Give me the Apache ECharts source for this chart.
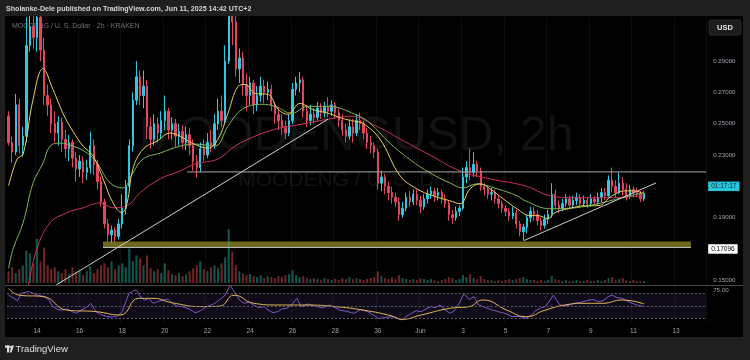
<!DOCTYPE html>
<html><head><meta charset="utf-8">
<script src="https://cdn.jsdelivr.net/npm/echarts@6/dist/echarts.min.js"></script>
<style>html,body{margin:0;padding:0;background:#1f1f1f;}#c{width:750px;height:360px;}</style>
</head><body><div id="c"></div>
<script>
// ---- data (4h candles from 2025-05-12 16:00, [open, close, low, high]) ----
const tickLabels = ['14','16','18','20','22','24','26','28','30','Jun','3','5','7','9','11','13'];
const priceTicks = [0.15,0.17,0.19,0.21,0.23,0.25,0.27,0.29];
const rsiTicks = [75];
const candles = [
[0.255,0.238,0.236,0.258],[0.238,0.232,0.225,0.242],[0.232,0.262,0.230,0.269],[0.262,0.236,0.231,0.266],[0.236,0.242,0.229,0.248],
[0.242,0.300,0.238,0.318],[0.300,0.312,0.296,0.330],[0.312,0.305,0.298,0.335],[0.305,0.318,0.296,0.332],[0.318,0.297,0.290,0.330],
[0.297,0.268,0.262,0.305],[0.268,0.262,0.255,0.275],[0.262,0.250,0.244,0.266],[0.250,0.244,0.238,0.258],[0.244,0.251,0.236,0.255],
[0.251,0.240,0.232,0.254],[0.240,0.234,0.228,0.246],[0.234,0.238,0.226,0.243],[0.238,0.228,0.222,0.240],[0.228,0.221,0.213,0.232],
[0.221,0.226,0.216,0.230],[0.226,0.219,0.212,0.229],[0.219,0.222,0.214,0.227],[0.222,0.236,0.218,0.245],[0.236,0.224,0.217,0.240],
[0.224,0.213,0.208,0.227],[0.213,0.200,0.197,0.216],[0.200,0.186,0.183,0.202],[0.186,0.179,0.175,0.189],[0.179,0.182,0.174,0.185],
[0.182,0.178,0.1745,0.184],[0.178,0.186,0.176,0.189],[0.186,0.196,0.183,0.205],[0.196,0.210,0.192,0.214],[0.210,0.236,0.208,0.240],
[0.236,0.265,0.232,0.270],[0.265,0.280,0.262,0.290],[0.280,0.268,0.262,0.284],[0.268,0.274,0.260,0.284],[0.274,0.248,0.240,0.278],
[0.248,0.240,0.234,0.254],[0.240,0.250,0.236,0.256],[0.250,0.244,0.238,0.254],[0.244,0.252,0.240,0.258],[0.252,0.258,0.246,0.268],
[0.258,0.246,0.240,0.260],[0.246,0.250,0.240,0.254],[0.250,0.242,0.235,0.253],[0.242,0.245,0.236,0.250],[0.245,0.238,0.234,0.249],
[0.238,0.243,0.233,0.248],[0.243,0.236,0.230,0.247],[0.236,0.226,0.220,0.240],[0.226,0.222,0.2155,0.230],[0.222,0.234,0.219,0.238],
[0.234,0.230,0.226,0.240],[0.230,0.238,0.228,0.244],[0.238,0.236,0.232,0.246],[0.236,0.250,0.234,0.256],[0.250,0.258,0.246,0.266],
[0.258,0.252,0.248,0.268],[0.252,0.290,0.250,0.300],[0.290,0.330,0.288,0.345],[0.330,0.315,0.300,0.340],[0.315,0.285,0.280,0.325],
[0.285,0.292,0.276,0.298],[0.292,0.275,0.268,0.296],[0.275,0.268,0.258,0.282],[0.268,0.276,0.262,0.280],[0.276,0.262,0.256,0.278],
[0.262,0.268,0.258,0.274],[0.268,0.274,0.264,0.280],[0.274,0.270,0.263,0.278],[0.270,0.272,0.265,0.277],[0.272,0.262,0.258,0.275],
[0.262,0.256,0.250,0.264],[0.256,0.252,0.246,0.260],[0.252,0.248,0.243,0.256],[0.248,0.244,0.240,0.252],[0.244,0.252,0.242,0.256],
[0.252,0.272,0.250,0.276],[0.272,0.276,0.268,0.280],[0.276,0.278,0.270,0.283],[0.278,0.258,0.254,0.280],[0.258,0.252,0.248,0.262],
[0.252,0.256,0.249,0.262],[0.256,0.254,0.250,0.260],[0.254,0.260,0.252,0.264],[0.260,0.257,0.253,0.263],[0.257,0.261,0.254,0.264],
[0.261,0.258,0.254,0.267],[0.258,0.262,0.255,0.265],[0.262,0.257,0.253,0.264],[0.257,0.252,0.248,0.260],[0.252,0.246,0.242,0.256],
[0.246,0.242,0.238,0.250],[0.242,0.248,0.240,0.252],[0.248,0.244,0.238,0.253],[0.244,0.252,0.242,0.256],[0.252,0.250,0.246,0.257],
[0.250,0.244,0.240,0.252],[0.244,0.238,0.234,0.247],[0.238,0.236,0.231,0.242],[0.236,0.232,0.228,0.238],[0.232,0.212,0.208,0.234],
[0.212,0.216,0.207,0.220],[0.216,0.210,0.205,0.218],[0.210,0.206,0.201,0.213],[0.206,0.203,0.199,0.210],[0.203,0.200,0.197,0.206],
[0.200,0.192,0.188,0.203],[0.192,0.196,0.190,0.200],[0.196,0.203,0.194,0.206],[0.203,0.200,0.197,0.207],[0.200,0.205,0.198,0.208],
[0.205,0.201,0.198,0.208],[0.201,0.197,0.193,0.204],[0.197,0.202,0.195,0.205],[0.202,0.205,0.199,0.208],[0.205,0.207,0.202,0.210],
[0.207,0.204,0.200,0.209],[0.204,0.206,0.201,0.209],[0.206,0.202,0.199,0.208],[0.202,0.199,0.196,0.205],[0.199,0.192,0.188,0.201],
[0.192,0.190,0.186,0.195],[0.190,0.194,0.188,0.197],[0.194,0.196,0.191,0.198],[0.196,0.216,0.195,0.222],[0.216,0.222,0.212,0.226],
[0.222,0.219,0.214,0.234],[0.219,0.224,0.216,0.232],[0.224,0.220,0.216,0.226],[0.220,0.210,0.207,0.222],[0.210,0.208,0.204,0.212],
[0.208,0.205,0.202,0.210],[0.205,0.206,0.201,0.209],[0.206,0.202,0.199,0.208],[0.202,0.199,0.196,0.204],[0.199,0.196,0.193,0.201],
[0.196,0.194,0.191,0.198],[0.194,0.191,0.188,0.196],[0.191,0.193,0.189,0.197],[0.193,0.186,0.183,0.195],[0.186,0.181,0.178,0.188],
[0.181,0.184,0.1755,0.186],[0.184,0.190,0.180,0.192],[0.190,0.194,0.187,0.197],[0.194,0.192,0.188,0.197],[0.192,0.188,0.185,0.195],
[0.188,0.185,0.182,0.190],[0.185,0.189,0.183,0.192],[0.189,0.192,0.186,0.195],[0.192,0.205,0.190,0.212],[0.205,0.198,0.195,0.208],
[0.198,0.196,0.193,0.201],[0.196,0.199,0.194,0.202],[0.199,0.202,0.197,0.205],[0.202,0.198,0.196,0.204],[0.198,0.201,0.196,0.204],
[0.201,0.203,0.198,0.206],[0.203,0.199,0.197,0.205],[0.199,0.201,0.197,0.204],[0.201,0.199,0.196,0.203],[0.199,0.202,0.197,0.205],
[0.202,0.200,0.198,0.204],[0.200,0.203,0.198,0.206],[0.203,0.206,0.200,0.209],[0.206,0.204,0.201,0.209],[0.204,0.214,0.203,0.217],
[0.214,0.210,0.206,0.222],[0.210,0.206,0.203,0.214],[0.206,0.212,0.205,0.219],[0.212,0.208,0.204,0.216],[0.208,0.204,0.201,0.212],
[0.204,0.208,0.202,0.211],[0.208,0.206,0.203,0.210],[0.206,0.205,0.203,0.209],[0.205,0.202,0.200,0.207],[0.202,0.2055,0.2005,0.207]
];
const volumes = [12,16,10,14,18,33,30,20,45,22,36,18,14,16,12,10,14,9,16,11,13,8,12,17,10,14,18,20,16,22,
14,18,20,16,35,22,28,25,18,28,15,12,14,10,20,13,9,8,10,7,9,12,15,18,22,14,12,16,18,15,
20,26,55,32,18,12,10,8,9,7,6,8,5,7,6,5,7,6,8,9,13,8,6,7,5,4,5,4,3,5,
4,3,4,3,5,4,6,4,5,4,3,4,5,6,12,7,5,4,6,4,8,5,4,3,4,3,5,4,3,4,
3,2,3,4,6,5,3,4,8,6,9,5,4,7,4,3,3,2,3,2,3,4,3,4,5,6,4,3,3,2,
3,2,3,7,4,3,2,3,2,2,3,2,2,3,2,2,3,2,3,5,6,3,4,5,3,2,3,2,2,2];
// moving averages: [candle index, price]
const maFast = [[0,0.2103],[2.4,0.2275],[4.1,0.2306],[6.9,0.2656],[9.7,0.2852],[12.5,0.2719],[15.3,0.2567],[18.1,0.2452],[21,0.2357],[23.8,0.2294],[26.6,0.2148],[29.4,0.1995],[31.9,0.1932],[33.4,0.1995],[35,0.2211],[37.9,0.2338],[41.8,0.2389],[45.5,0.244],[48.3,0.242],[51.7,0.2376],[56.2,0.2344],[59,0.2402],[61.8,0.2567],[64.6,0.2738],[66.6,0.2751],[69.4,0.2694],[73.1,0.2687],[75.9,0.2592],[78.7,0.256],[82.1,0.263],[85.5,0.2592],[90,0.2567],[93.9,0.2535],[97.6,0.2515],[99.8,0.2503],[104.6,0.2402],[110.3,0.2167],[115,0.2084],[119.5,0.204],[124.3,0.2008],[127.2,0.1989],[130,0.2084],[132.8,0.2116],[135.6,0.2084],[139.3,0.2021],[143.2,0.1957],[146.9,0.1913],[149.1,0.1913],[151.9,0.1894],[153.9,0.1932],[157.6,0.1957],[162.4,0.1976],[166,0.1976],[170,0.204],[173.6,0.2071],[176.5,0.2071],[178.7,0.2052]];
const maMid = [[0,0.1576],[1.3,0.1703],[4.1,0.1868],[6.9,0.2122],[9.7,0.2249],[11.7,0.2357],[14.5,0.2376],[18.1,0.2357],[22.1,0.2313],[24.9,0.2249],[28.6,0.2122],[32.2,0.209],[35,0.2186],[37.9,0.2275],[42.7,0.2313],[48.3,0.2357],[52.5,0.237],[58.1,0.2357],[61.8,0.2484],[65.8,0.2592],[71.4,0.2624],[75,0.2611],[79.8,0.2567],[84.3,0.2611],[90,0.2611],[97.6,0.256],[101.8,0.2503],[107.4,0.2376],[113.1,0.227],[118.7,0.2186],[124.3,0.2122],[128,0.209],[131.9,0.2116],[137.6,0.2084],[143.2,0.204],[145.5,0.2008],[152.5,0.1957],[159.6,0.1963],[166,0.1989],[172.8,0.2027],[178.7,0.2059]];
const maSlow = [[5.5,0.146],[8,0.1703],[11.7,0.1868],[16.5,0.1932],[21,0.1963],[25.8,0.1995],[29.4,0.1963],[33.4,0.1976],[37,0.2059],[42.7,0.2148],[48.3,0.2198],[52.5,0.2243],[59,0.2275],[63.8,0.2357],[69.4,0.242],[75,0.2465],[82.6,0.2497],[90,0.2529],[96.2,0.2548],[104.6,0.2473],[110.3,0.2402],[118.7,0.23],[127.2,0.2198],[135.6,0.2148],[145.5,0.2103],[152.5,0.204],[159.6,0.2027],[168.9,0.2027],[178.7,0.204]];
const rsi = [[0,67],[1.5,62],[2.5,58],[3.6,70],[5.8,73],[7,70],[8.3,67],[10.3,64.7],[11.5,58],[12.5,48.7],[13.8,44],[15,43],[16.5,45],[17.9,40.7],[19,38],[20.4,43],[21.8,47],[23.2,54],[24.6,40.7],[26,36],[27.2,33.7],[28.6,32],[30,32.7],[31,35],[32,40.7],[33.9,70],[34.9,73],[35.9,75.3],[37,66],[38.2,59],[39.5,62],[40.7,54],[42,57],[43.5,59],[44.8,61],[46,54],[47.4,50],[48.8,48.7],[50,47],[51.4,43],[52.5,39],[53.6,40.7],[54.6,44],[55.6,48.7],[57,51],[58.1,54],[59.5,60],[61,67],[62.4,83],[63.3,75],[64.4,64.7],[65.3,58],[66.3,54],[67.7,56],[69.1,51],[70.5,47],[72,49],[73.1,43],[74.5,39],[75.9,40.7],[77,45],[78.4,46],[79.8,52],[81.2,62],[82.4,48.7],[84.5,53],[86.6,48.7],[88.5,47],[90.5,51.3],[92,47],[93.4,43],[95.3,41],[97.3,38],[99.2,44],[101.2,40.7],[102.6,36],[104.1,30],[106,31],[108,32.7],[109.4,30],[110.8,27.3],[112,33],[113.4,38],[114.8,42],[116.2,40.7],[117.6,45],[119,48.7],[120.2,47],[121.5,51.3],[122.9,44],[124.3,38],[125.6,42],[126.9,54],[128.3,70],[129.7,60],[131.1,64.7],[132.3,52],[133.6,48.7],[135.8,44],[137.9,40.7],[139.8,38],[141.8,32.7],[143.8,33],[145.8,30],[147.2,35],[148.6,43],[149.8,46],[151.1,48.7],[152.2,56],[153.4,67],[154.3,60],[155.3,51.3],[157.3,50],[159.3,54],[161.4,56],[163.5,59.3],[164.8,60],[166,56.7],[167.4,58],[168.9,64.7],[170,67],[171.4,63],[172.8,62],[174.2,58],[175.6,54],[177.3,51],[179,48.7]];
const rsiMa = [[0,78],[3,67],[9.7,64.7],[16.5,43],[24.6,40.7],[31.4,35.3],[36.7,62],[40.7,62],[46,55],[54.2,48.7],[59.5,49.5],[63.5,67],[69.1,54],[75.9,51.3],[83.8,51.3],[91.9,48.7],[100.1,43],[108,33.7],[110.8,28.4],[116.2,35.3],[124.3,46],[129.7,48.7],[133.6,59.3],[140.4,43],[145.8,32.7],[151.1,43],[156.7,51.3],[162.1,54],[167.4,54],[172.8,59.3],[179,53]];
// drawings: [candle index, price]
const trendMain = [[13.4,0.147],[90,0.2529]];
const trendRecent = [[145.2,0.1754],[182.4,0.2122]];
const resistance = [[50.3,0.2192],[196.5,0.2192]];
const supportZone = {from: 26.6, to: 192.2, low: 0.17096, high: 0.1748};
const supportLevel = 0.17096;
const countdown = '01:17:17';

// ---- chart ----
const N = 197;
const startMs = Date.UTC(2025,4,12,16);
const categories = Array.from({length: N}, (_, i) => new Date(startMs + i*4*3600e3).toISOString().slice(5,16));
const isTick = i => i >= 8 && (i - 8) % 12 === 0;
const L = 6.825, R = 43.825;
const UP = '#33c6e0', DOWN = '#e0465e';
const FONT = 'Liberation Sans, Arial, sans-serif';
const axisText = '#a0a3ac';
const lastClose = candles[candles.length-1][1];

const chart = echarts.init(document.getElementById('c'), null, {renderer:'canvas'});
chart.setOption({
  animation: false,
  backgroundColor: '#000000',
  textStyle: {fontFamily: FONT},
  grid: [
    {left: L, right: R, top: 17, bottom: 75},
    {left: L, right: R, top: 228, bottom: 77},
    {left: L, right: R, top: 285, bottom: 37}
  ],
  xAxis: [
    {type:'category', gridIndex:0, data: categories, boundaryGap:true, axisLine:{show:false}, axisTick:{show:false}, axisLabel:{show:false},
     splitLine:{show:true, interval:(i)=>isTick(i), lineStyle:{color:'rgba(255,255,255,0.05)', width:1}}},
    {type:'value', gridIndex:0, min:-0.5, max:N-0.5, show:false},
    {type:'category', gridIndex:1, data: categories, boundaryGap:true, show:false},
    {type:'category', gridIndex:2, data: categories, boundaryGap:true, axisLine:{show:false}, axisTick:{show:false},
     axisLabel:{show:true, interval:(i)=>isTick(i), formatter:(v,i)=>tickLabels[(i-8)/12], color:axisText, fontSize:6.5, margin:5, fontFamily:FONT},
     splitLine:{show:true, interval:(i)=>isTick(i), lineStyle:{color:'rgba(255,255,255,0.05)', width:1}}},
    {type:'value', gridIndex:2, min:-0.5, max:N-0.5, show:false}
  ],
  yAxis: [
    {type:'value', gridIndex:0, position:'right', min:0.1470, max:0.31814, scale:true,
     axisLine:{show:false}, axisTick:{show:false}, splitLine:{show:false},
     axisLabel:{customValues: priceTicks, formatter:v=>v.toFixed(5), color:axisText, fontSize:6.2, margin:7, fontFamily:FONT}},
    {type:'value', gridIndex:1, min:0, max:56, show:false},
    {type:'value', gridIndex:2, position:'right', min:22.5, max:83.3,
     axisLine:{show:false}, axisTick:{show:false}, splitLine:{show:false},
     axisLabel:{customValues: rsiTicks, formatter:v=>v.toFixed(2), color:axisText, fontSize:6.2, margin:7, fontFamily:FONT}}
  ],
  series: [
    {type:'bar', xAxisIndex:2, yAxisIndex:1, z:1, barWidth:'60%',
     data: volumes.map((v,i)=>({value:v, itemStyle:{color: candles[i][1] >= candles[i][0] ? 'rgba(38,166,154,0.5)' : 'rgba(239,83,80,0.45)'}}))},
    {type:'line', xAxisIndex:1, yAxisIndex:0, z:1.5, data:[[supportZone.from, supportLevel],[supportZone.to, supportLevel]],
     symbol:'none', lineStyle:{color:'#bdbdbd', width:1},
     markArea:{silent:true, itemStyle:{color:'#6e6820'}, data:[[{xAxis:supportZone.from, yAxis:supportZone.low},{xAxis:supportZone.to, yAxis:supportZone.high}]]}},
    {type:'candlestick', xAxisIndex:0, yAxisIndex:0, z:2, barWidth:'52%', data:candles,
     itemStyle:{color:UP, color0:DOWN, borderColor:UP, borderColor0:DOWN, borderWidth:1}},
    {type:'line', xAxisIndex:1, yAxisIndex:0, z:3, data:maSlow, smooth:0.4, symbol:'none', lineStyle:{color:'#c8325a', width:1}},
    {type:'line', xAxisIndex:1, yAxisIndex:0, z:3, data:maMid, smooth:0.4, symbol:'none', lineStyle:{color:'#7db35a', width:1}},
    {type:'line', xAxisIndex:1, yAxisIndex:0, z:3, data:maFast, smooth:0.4, symbol:'none', lineStyle:{color:'#e8d05a', width:1}},
    {type:'line', xAxisIndex:1, yAxisIndex:0, z:4, data:trendMain, symbol:'none', lineStyle:{color:'#cfcfcf', width:1}},
    {type:'line', xAxisIndex:1, yAxisIndex:0, z:4, data:trendRecent, symbol:'none', lineStyle:{color:'#cfcfcf', width:1}},
    {type:'line', xAxisIndex:1, yAxisIndex:0, z:4, data:resistance, symbol:'none', lineStyle:{color:'#a8a8a8', width:1}},
    {type:'line', xAxisIndex:1, yAxisIndex:0, z:20, data:[], symbol:'none',
     markLine:{silent:true, symbol:['none','none'], lineStyle:{color:'rgba(0,0,0,0)', width:0},
       label:{show:true, position:'end', distance:2, fontSize:6.5, fontFamily:FONT, padding:[1.5,3,1,3]},
       data:[
         {yAxis:supportLevel, label:{formatter:supportLevel.toFixed(5), backgroundColor:'#ffffff', color:'#000000'}},
         {yAxis:lastClose, label:{formatter:countdown, backgroundColor:'#26c6da', color:'#0d2230'}}
       ]}},
    {type:'line', xAxisIndex:4, yAxisIndex:2, z:3, data:rsi, symbol:'none', lineStyle:{color:'#7e57c2', width:1},
     markArea:{silent:true, itemStyle:{color:'rgba(126,87,194,0.12)'}, data:[[{yAxis:30},{yAxis:70}]]},
     markLine:{silent:true, symbol:['none','none'], label:{show:false}, lineStyle:{color:'#5d606b', type:[2,2], width:1},
       data:[{yAxis:70},{yAxis:50},{yAxis:30}]}},
    {type:'line', xAxisIndex:4, yAxisIndex:2, z:4, data:rsiMa, smooth:0.5, symbol:'none', lineStyle:{color:'#e0b75a', width:1}}
  ],
  graphic: [
    {type:'text', z:0, x:356, y:137, style:{text:'MOODENGUSD, 2h', font:'48px '+FONT, fill:'#121212', textAlign:'center', textVerticalAlign:'middle'}},
    {type:'text', z:0, x:356, y:180, style:{text:'MOODENG / U. S. Dollar', font:'21px '+FONT, fill:'#121212', textAlign:'center', textVerticalAlign:'middle'}},
    {type:'text', z:0, x:12, y:26, style:{text:'MOODENG / U. S. Dollar · 2h · KRAKEN', font:'7px '+FONT, fill:'#6f727c', textVerticalAlign:'middle'}},
    {type:'line', z:50, shape:{x1:5, y1:285.5, x2:743, y2:285.5}, style:{stroke:'#4a4a4a', lineWidth:1}},
    {type:'rect', z:100, shape:{x:0, y:0, width:750, height:16}, style:{fill:'#1f1f1f'}},
    {type:'rect', z:100, shape:{x:0, y:337, width:750, height:23}, style:{fill:'#1f1f1f'}},
    {type:'rect', z:100, shape:{x:0, y:0, width:5, height:360}, style:{fill:'#1f1f1f'}},
    {type:'rect', z:100, shape:{x:743, y:0, width:7, height:360}, style:{fill:'#1f1f1f'}},
    {type:'text', z:101, x:6, y:9, style:{text:'Sholanke-Dele published on TradingView.com, Jun 11, 2025 14:42 UTC+2', font:'bold 7.1px '+FONT, fill:'#d6d6d6', textVerticalAlign:'middle'}},
    {type:'rect', z:101, shape:{x:709, y:20, width:32, height:15, r:2}, style:{fill:'#1c1c1c', stroke:'#2a2a2a', lineWidth:1}},
    {type:'text', z:102, x:725, y:27.5, style:{text:'USD', font:'bold 7.5px '+FONT, fill:'#e6e6e6', textAlign:'center', textVerticalAlign:'middle'}},
    {type:'rect', z:101, shape:{x:5, y:345.5, width:4.5, height:2.2}, style:{fill:'#e0e0e0'}},
    {type:'rect', z:101, shape:{x:7, y:345.5, width:2.2, height:7}, style:{fill:'#e0e0e0'}},
    {type:'circle', z:101, shape:{cx:10.5, cy:347, r:1.1}, style:{fill:'#e0e0e0'}},
    {type:'polygon', z:101, shape:{points:[[11.5,345.5],[14,345.5],[11.5,352.5],[9.8,352.5]]}, style:{fill:'#e0e0e0'}},
    {type:'text', z:101, x:15.5, y:349, style:{text:'TradingView', font:'9.5px '+FONT, fill:'#e0e0e0', textVerticalAlign:'middle'}}
  ]
});
</script>
</body></html>
